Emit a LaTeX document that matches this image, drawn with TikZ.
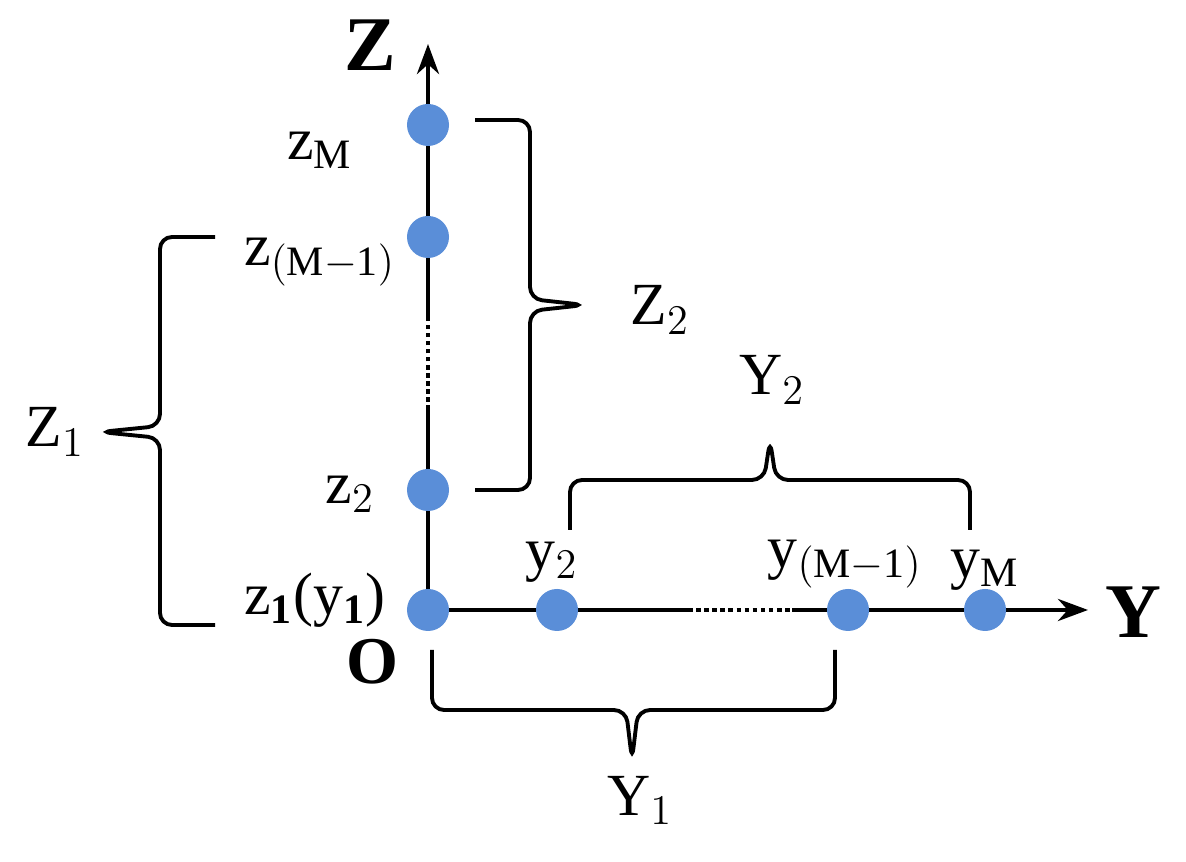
\documentclass[tikz,border=0pt]{standalone}
\usepackage{fontspec}
\setmainfont{Liberation Serif}
\usetikzlibrary{arrows.meta}
\definecolor{dotblue}{HTML}{5A8ED8}
\tikzset{
	pt/.style={circle, fill=dotblue, inner sep=0pt, minimum size=0.42cm},
	axis/.style={line width=1.3pt},
	brk/.style={line width=1.1pt, rounded corners=0.12cm}
}
\begin{document}
\begin{tikzpicture}[x=0.01cm,y=0.01cm]
	\useasboundingbox (0,0) rectangle (1186,862);
	\fontsize{17}{19}\selectfont
	% axes
	\coordinate (O) at (428,252);
	\coordinate (Ztip) at (428,818);
	\coordinate (Ytip) at (1088,252);
	\coordinate (zd1) at (428,545);
	\coordinate (zd2) at (428,452);
	\coordinate (yd1) at (688,252);
	\coordinate (yd2) at (792,252);
	\draw[axis] (O)--(zd2);
	\draw[axis, densely dotted] (zd2)--(zd1);
	\draw[axis, -{Stealth[length=0.3cm,width=0.22cm,open]}] (zd1)--(Ztip);
	\draw[axis] (O)--(yd1);
	\draw[axis, densely dotted] (yd1)--(yd2);
	\draw[axis, -{Stealth[length=0.3cm,width=0.22cm,open]}] (yd2)--(Ytip);
	\node[font=\fontsize{22}{24}\selectfont\bfseries] (Zlab) at (370,817) {Z};
	\node[font=\fontsize{22}{24}\selectfont\bfseries] (Ylab) at (1133,250) {Y};
	\node[font=\fontsize{19}{21}\selectfont\bfseries] (Olab) at (372,200) {O};
	% points
	\node[pt] (z1) at (O) {};
	\node[pt] (z2) at (428,372) {};
	\node[pt] (zm1) at (428,625) {};
	\node[pt] (zM) at (428,737) {};
	\node[pt] (y2) at (557,252) {};
	\node[pt] (ym1) at (848,252) {};
	\node[pt] (yM) at (985,252) {};
	\node (lz1) at (315,262) {z$_{\mathbf{1}}$(y$_{\mathbf{1}}$)};
	\node (lz2) at (350,368) {z$_{2}$};
	\node (lzm1) at (320,600) {z$_{\mathrm{(M-1)}}$};
	\node (lzM) at (320,712) {z$_{\mathrm{M}}$};
	\node (ly2) at (552,300) {y$_{2}$};
	\node (lym1) at (845,298) {y$_{\mathrm{(M-1)}}$};
	\node (lyM) at (985,292) {y$_{\mathrm{M}}$};
	% braces
	\draw[brk] (475,742) -| (530,563) -- (585,557) -- (530,551) |- (475,372);
	\node (Z2) at (660,552) {Z$_2$};
	\draw[brk] (215,625) -| (160,436) -- (100,430) -- (160,424) |- (215,237);
	\node (Z1) at (55,430) {Z$_1$};
	\draw[brk] (570,332) |- (764,382) -- (770,422) -- (776,382) -| (970,332);
	\node (Y2) at (772,482) {Y$_2$};
	\draw[brk] (432,212) |- (626,152) -- (632,102) -- (638,152) -| (835,212);
	\node (Y1) at (640,62) {Y$_1$};
\end{tikzpicture}
\end{document}
